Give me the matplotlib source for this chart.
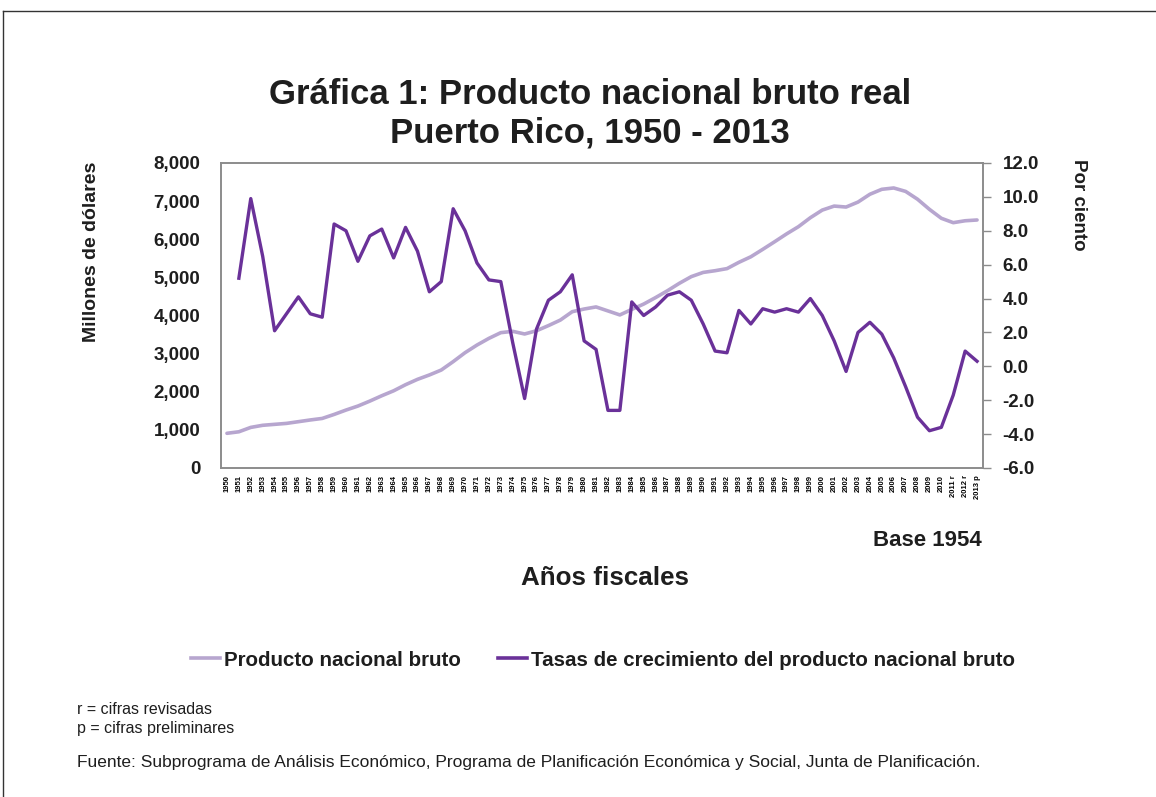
import matplotlib
matplotlib.use('Agg')
import matplotlib.pyplot as plt
from matplotlib.lines import Line2D
from matplotlib.ticker import FuncFormatter
import numpy as np

plt.rcParams['font.family'] = ['Liberation Sans', 'DejaVu Sans']

anos = [str(a) for a in range(1950, 2011)] + ['2011 r', '2012 r', '2013 p']

# Producto nacional bruto real (millones de dolares, base 1954)
pnb = [910, 950, 1065, 1120, 1145, 1170, 1215, 1260, 1300, 1405,
       1520, 1625, 1755, 1895, 2025, 2185, 2325, 2440, 2570, 2790,
       3025, 3225, 3400, 3550, 3585, 3515, 3600, 3735, 3880, 4100,
       4170, 4225, 4120, 4015, 4160, 4300, 4470, 4650, 4845, 5020,
       5130, 5175, 5230, 5395, 5540, 5735, 5935, 6140, 6330, 6565,
       6765, 6870, 6845, 6975, 7180, 7310, 7345, 7255, 7050, 6785,
       6550, 6435, 6485, 6505]

# Tasas de crecimiento (por ciento), sin dato para 1950
tasas = [np.nan, 5.2, 9.9, 6.5, 2.1, 3.1, 4.1, 3.1, 2.9, 8.4,
         8.0, 6.2, 7.7, 8.1, 6.4, 8.2, 6.8, 4.4, 5.0, 9.3,
         8.0, 6.1, 5.1, 5.0, 1.4, -1.9, 2.2, 3.9, 4.4, 5.4,
         1.5, 1.0, -2.6, -2.6, 3.8, 3.0, 3.5, 4.2, 4.4, 3.9,
         2.5, 0.9, 0.8, 3.3, 2.5, 3.4, 3.2, 3.4, 3.2, 4.0,
         3.0, 1.5, -0.3, 2.0, 2.6, 1.9, 0.5, -1.2, -3.0, -3.8,
         -3.6, -1.7, 0.9, 0.3]

c_pnb = '#B7A6CF'
c_tasa = '#6A3199'
gris = '#8C8C8C'
negro = '#1E1E1E'

W, H = 1156, 797
fig = plt.figure(figsize=(W / 100, H / 100), dpi=100)
ax = fig.add_axes([221 / W, 1 - 468 / H, (983 - 221) / W, (468 - 163) / H])
x = np.arange(len(anos))
ax.plot(x, pnb, color=c_pnb, lw=2.6, solid_capstyle='round')
ax.set_ylim(0, 8000)
ax.set_xlim(-0.5, len(anos) - 0.5)
ax.set_yticks(range(0, 8001, 1000))
ax.yaxis.set_major_formatter(FuncFormatter(lambda v, p: f'{v:,.0f}'))
ax.set_xticks(x)
ax.set_xticklabels(anos, rotation=90, fontsize=5.5, fontweight='bold', va='top')
ax.tick_params(axis='x', length=0, pad=5)
ax.tick_params(axis='y', length=0, pad=15, labelsize=13.5, labelcolor=negro)
for t in ax.get_yticklabels():
    t.set_fontweight('bold')

ax2 = ax.twinx()
ax2.plot(x, tasas, color=c_tasa, lw=2.4, solid_joinstyle='round')
ax2.set_ylim(-6, 12)
ax2.set_yticks(np.arange(-6, 12.1, 2))
ax2.yaxis.set_major_formatter(FuncFormatter(lambda v, p: f'{v:.1f}'))
ax2.tick_params(axis='y', length=6, width=1, color=gris, pad=8, labelsize=13.5,
                labelcolor=negro)
for t in ax2.get_yticklabels():
    t.set_fontweight('bold')

for a in (ax, ax2):
    for s in a.spines.values():
        s.set_color(gris)
        s.set_linewidth(1.2)

fig.text(92 / W, 1 - 252 / H, 'Millones de dólares', rotation=90, ha='center',
         va='center', fontsize=14, fontweight='bold', color=negro)
fig.text(1078 / W, 1 - 205 / H, 'Por ciento', rotation=-90, ha='center',
         va='center', fontsize=13.5, fontweight='bold', color=negro)

fig.text(590 / W, 1 - 95 / H, 'Gráfica 1: Producto nacional bruto real',
         ha='center', va='center', fontsize=25, fontweight='bold', color=negro)
fig.text(590 / W, 1 - 133 / H, 'Puerto Rico, 1950 - 2013',
         ha='center', va='center', fontsize=25, fontweight='bold', color=negro)

fig.text(982 / W, 1 - 541 / H, 'Base 1954', ha='right', va='center',
         fontsize=16, fontweight='bold', color=negro)
fig.text(605 / W, 1 - 578 / H, 'Años fiscales', ha='center', va='center',
         fontsize=18.7, fontweight='bold', color=negro)

h1 = Line2D([], [], color=c_pnb, lw=2.6)
h2 = Line2D([], [], color=c_tasa, lw=2.6)
fig.legend([h1, h2], ['Producto nacional bruto',
                      'Tasas de crecimiento del producto nacional bruto'],
           loc='center', bbox_to_anchor=(603 / W, 1 - 660 / H), ncol=2,
           frameon=False, handlelength=1.4, handletextpad=0.2,
           columnspacing=1.8, prop={'size': 14.8, 'weight': 'bold'},
           labelcolor=negro)

fig.text(77 / W, 1 - 710 / H, 'r = cifras revisadas', ha='left', va='center',
         fontsize=11.5, color=negro)
fig.text(77 / W, 1 - 729 / H, 'p = cifras preliminares', ha='left', va='center',
         fontsize=11.5, color=negro)
fig.text(77 / W, 1 - 762 / H,
         'Fuente: Subprograma de Análisis Económico, Programa de Planificación '
         'Económica y Social, Junta de Planificación.',
         ha='left', va='center', fontsize=12.5, color=negro)

# marco de la pagina
fig.add_artist(Line2D([3 / W, 1], [1 - 11 / H, 1 - 11 / H], color='#333333', lw=1))
fig.add_artist(Line2D([3 / W, 3 / W], [0, 1 - 11 / H], color='#333333', lw=1))

fig.savefig('out.png', dpi=100)
